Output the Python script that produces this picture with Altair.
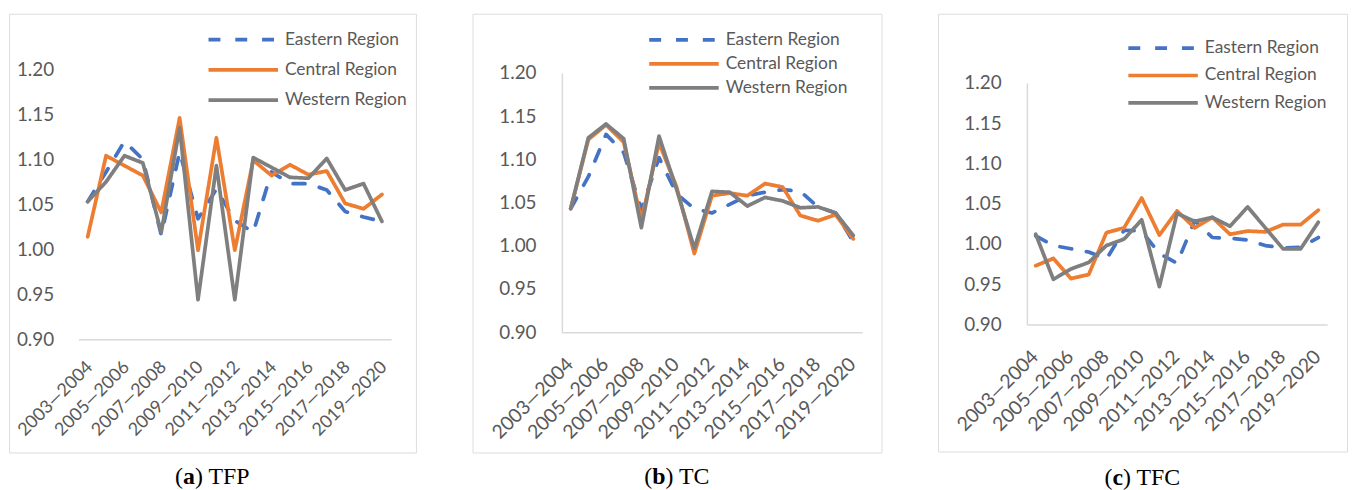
import altair as alt
import pandas as pd

periods = ["2003—2004", "2004—2005", "2005—2006", "2006—2007", "2007—2008",
           "2008—2009", "2009—2010", "2010—2011", "2011—2012", "2012—2013",
           "2013—2014", "2014—2015", "2015—2016", "2016—2017", "2017—2018",
           "2018—2019", "2019—2020"]
tick_labels = ["2003—2004", "2005—2006", "2007—2008", "2009—2010", "2011—2012",
               "2013—2014", "2015—2016", "2017—2018", "2019—2020"]
y_ticks = [0.90, 0.95, 1.00, 1.05, 1.10, 1.15, 1.20]
regions = ["Eastern Region", "Central Region", "Western Region"]

tfp_east = [1.053, 1.086, 1.120, 1.100, 1.016, 1.108, 1.034, 1.067, 1.032, 1.019,
            1.086, 1.073, 1.073, 1.066, 1.042, 1.036, 1.031]
tfp_central = [1.014, 1.104, 1.093, 1.082, 1.041, 1.146, 0.999, 1.124, 0.999, 1.099,
               1.082, 1.094, 1.083, 1.087, 1.051, 1.045, 1.061]
tfp_west = [1.053, 1.075, 1.104, 1.096, 1.019, 1.135, 0.944, 1.093, 0.944, 1.102,
            1.091, 1.080, 1.079, 1.101, 1.066, 1.073, 1.031]

tc_east = [1.043, 1.080, 1.129, 1.108, 1.042, 1.102, 1.060, 1.043, 1.038, 1.048,
           1.058, 1.062, 1.065, 1.063, 1.045, 1.038, 1.005]
tc_central = [1.043, 1.123, 1.140, 1.120, 1.030, 1.119, 1.068, 0.991, 1.058, 1.061,
              1.058, 1.072, 1.068, 1.035, 1.029, 1.036, 1.008]
tc_west = [1.043, 1.125, 1.141, 1.124, 1.021, 1.127, 1.065, 0.997, 1.063, 1.062,
           1.046, 1.056, 1.052, 1.044, 1.045, 1.038, 1.012]

tfc_east = [1.010, 0.998, 0.994, 0.990, 0.981, 1.017, 1.016, 0.988, 0.976, 1.029,
            1.008, 1.007, 1.005, 0.998, 0.995, 0.996, 1.008]
tfc_central = [0.973, 0.982, 0.957, 0.962, 1.014, 1.020, 1.057, 1.011, 1.041, 1.020,
               1.033, 1.012, 1.016, 1.015, 1.024, 1.024, 1.042]
tfc_west = [1.012, 0.956, 0.969, 0.977, 0.998, 1.006, 1.030, 0.947, 1.038, 1.028,
            1.033, 1.022, 1.046, 1.020, 0.994, 0.994, 1.027]

colors = ["#4472C4", "#ED7D31", "#7F7F7F"]
dashes = [[12, 15], [1, 0], [1, 0]]
label_color = "#595959"
box_color = "#d9d9d9"


def long_frame(east, central, west):
    rows = []
    for name, vals in zip(regions, [east, central, west]):
        for p, v in zip(periods, vals):
            rows.append({"period": p, "region": name, "value": v})
    return pd.DataFrame(rows)


def panel(df, geo, letter, name, show_ydomain):
    W, H = geo["W"], geo["H"]
    xr, yr = geo["xr"], geo["yr"]
    legend = alt.Legend(
        orient="none", legendX=geo["lx"], legendY=geo["ly"], title=None,
        symbolType="stroke", symbolSize=4900, symbolStrokeWidth=3.75,
        clipHeight=20, rowPadding=geo["rp"], labelOffset=5,
        labelFont="Lato", labelFontSize=17.5, labelColor=label_color,
        padding=0, labelLimit=300,
    )
    yaxis_kwargs = dict(values=y_ticks, format=".2f", ticks=False, grid=False, title=None,
                        labelFont="Lato", labelFontSize=19, labelColor=label_color,
                        labelPadding=geo["ylp"], offset=-xr[0])
    if show_ydomain:
        yaxis_kwargs.update(domain=True, domainColor=box_color, domainWidth=1.5)
    else:
        yaxis_kwargs.update(domain=False)
    lines = alt.Chart(df).mark_line(strokeWidth=3.75, strokeCap="round", strokeJoin="round").encode(
        x=alt.X("period:N", sort=periods,
                scale=alt.Scale(type="point", range=xr, padding=0.5),
                axis=alt.Axis(values=tick_labels, labelAngle=-45, labelAlign="right",
                              labelBaseline="middle", labelPadding=geo["xlp"], labelOffset=geo["xlo"],
                              labelFont="Lato", labelFontSize=geo["xfs"], labelColor=label_color,
                              ticks=False, grid=False, title=None, domainColor=box_color,
                              domainWidth=1.5, labelOverlap=False, labelFlush=False,
                              offset=-(H - yr[0]))),
        y=alt.Y("value:Q", scale=alt.Scale(domain=[0.90, 1.20], range=yr, zero=False, nice=False),
                axis=alt.Axis(**yaxis_kwargs)),
        color=alt.Color("region:N", scale=alt.Scale(domain=regions, range=colors), legend=legend),
        strokeDash=alt.StrokeDash("region:N", scale=alt.Scale(domain=regions, range=dashes), legend=legend),
    )
    fs = 24
    bold_w = {"a": 0.5, "b": 0.556, "c": 0.444}[letter]
    rest_w = {"TFP": 1.723, "TC": 1.278, "TFC": 1.834}[name]
    total = (0.333 + bold_w + 0.333 + 0.25 + rest_w) * fs
    left = W / 2 - total / 2
    cy = geo["cap_y"]
    cap_df = pd.DataFrame({"t1": ["("], "t2": [letter], "t3": [") " + name]})
    base = alt.Chart(cap_df)
    c1 = base.mark_text(font="Liberation Serif", fontSize=fs, align="left", baseline="alphabetic",
                        color="#000000").encode(text="t1:N", x=alt.value(left), y=alt.value(cy))
    c2 = base.mark_text(font="Liberation Serif", fontSize=fs, fontWeight="bold", align="left",
                        baseline="alphabetic", color="#000000").encode(
        text="t2:N", x=alt.value(left + 0.333 * fs), y=alt.value(cy))
    c3 = base.mark_text(font="Liberation Serif", fontSize=fs, align="left", baseline="alphabetic",
                        color="#000000").encode(
        text="t3:N", x=alt.value(left + (0.333 + bold_w) * fs), y=alt.value(cy))
    return alt.layer(lines, c1, c2, c3).properties(width=W, height=H)


geo_a = dict(W=410, H=442, xr=[70, 385], yr=[328, 56], ylp=25, xlp=25, xlo=2, xfs=18,
             lx=199, ly=16, rp=10.5, cap_y=474)
geo_b = dict(W=412, H=442, xr=[90, 392.5], yr=[320.8, 59.7], ylp=26, xlp=29, xlo=-1, xfs=19.5,
             lx=176, ly=16.3, rp=4.2, cap_y=474)
geo_c = dict(W=412, H=441, xr=[89.5, 392], yr=[313, 69.7], ylp=26, xlp=29, xlo=-1, xfs=19.5,
             lx=189.7, ly=24.7, rp=7.5, cap_y=475)

pa = panel(long_frame(tfp_east, tfp_central, tfp_west), geo_a, "a", "TFP", False)
pb = panel(long_frame(tc_east, tc_central, tc_west), geo_b, "b", "TC", True)
pc = panel(long_frame(tfc_east, tfc_central, tfc_west), geo_c, "c", "TFC", True)

chart = alt.hconcat(pa, pb, pc, spacing=55).resolve_scale(
    x="independent", y="independent", color="independent", strokeDash="independent"
).resolve_legend(color="independent", strokeDash="independent").properties(
    padding={"top": 3, "left": 0, "right": 0, "bottom": 0}
).configure_view(stroke=box_color, strokeWidth=1.5).configure(background="white")

chart.save("out.html", embed_options={"renderer": "svg", "actions": False})
